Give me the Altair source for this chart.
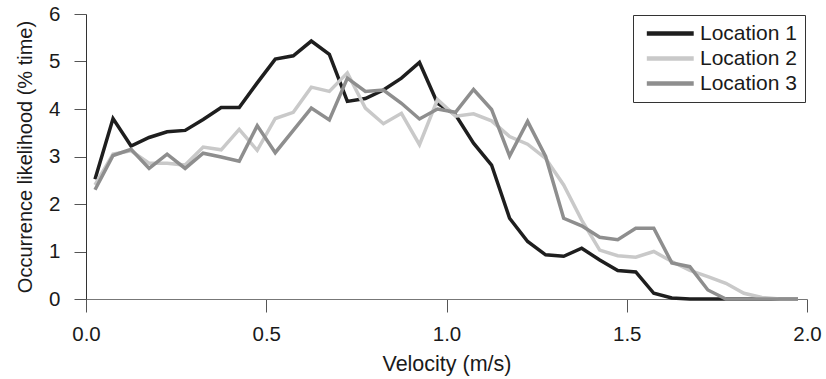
import altair as alt
import pandas as pd

velocity = [0.025, 0.075, 0.125, 0.175, 0.225, 0.275, 0.325, 0.375, 0.425, 0.475,
            0.525, 0.575, 0.625, 0.675, 0.725, 0.775, 0.825, 0.875, 0.925, 0.975,
            1.025, 1.075, 1.125, 1.175, 1.225, 1.275, 1.325, 1.375, 1.425, 1.475,
            1.525, 1.575, 1.625, 1.675, 1.725, 1.775, 1.825, 1.875, 1.925, 1.975]

location_1 = [2.52, 3.80, 3.22, 3.40, 3.52, 3.55, 3.78, 4.03, 4.03, 4.55,
              5.05, 5.12, 5.43, 5.15, 4.16, 4.22, 4.40, 4.65, 4.98, 4.12,
              3.88, 3.28, 2.82, 1.70, 1.21, 0.93, 0.90, 1.07, 0.82, 0.60,
              0.57, 0.12, 0.02, 0.0, 0.0, 0.0, 0.0, 0.0, 0.0, 0.0]

location_2 = [2.40, 3.05, 3.12, 2.86, 2.86, 2.82, 3.20, 3.14, 3.57, 3.13,
              3.80, 3.93, 4.46, 4.37, 4.76, 4.02, 3.69, 3.91, 3.25, 4.20,
              3.85, 3.90, 3.75, 3.42, 3.26, 2.96, 2.40, 1.66, 1.03, 0.91,
              0.88, 1.00, 0.79, 0.60, 0.47, 0.33, 0.12, 0.03, 0.0, 0.0]

location_3 = [2.30, 3.02, 3.15, 2.75, 3.05, 2.75, 3.07, 2.99, 2.90, 3.65,
              3.08, 3.55, 4.02, 3.77, 4.65, 4.37, 4.40, 4.12, 3.79, 4.00,
              3.93, 4.41, 3.99, 3.01, 3.74, 3.00, 1.70, 1.54, 1.30, 1.25,
              1.49, 1.49, 0.76, 0.68, 0.19, 0.0, 0.0, 0.0, 0.0, 0.0]

series_names = ["Location 1", "Location 2", "Location 3"]
series_colors = ["#1e1e1e", "#c9c9c9", "#8e8e8e"]
x_ticks = [0.0, 0.5, 1.0, 1.5, 2.0]
y_ticks = [0, 1, 2, 3, 4, 5, 6]

rows = []
for name, vals in zip(series_names, [location_1, location_2, location_3]):
    for v, y in zip(velocity, vals):
        rows.append({"velocity": v, "value": y, "location": name})
df = pd.DataFrame(rows)

FONT = "Liberation Sans"

chart = alt.Chart(df).mark_line(strokeWidth=3.5, strokeJoin="miter").encode(
    x=alt.X("velocity:Q",
            scale=alt.Scale(domain=[0, 2], nice=False, zero=False),
            axis=alt.Axis(values=x_ticks, format=".1f", title="Velocity (m/s)",
                          grid=False, domainColor="#777777", tickColor="#555555",
                          tickSize=13, labelPadding=12, titlePadding=9,
                          labelFontSize=20.5, titleFontSize=21.5, labelFont=FONT,
                          titleFont=FONT, labelColor="#1a1a1a", titleColor="#1a1a1a",
                          titleFontWeight="normal", labelFlush=False)),
    y=alt.Y("value:Q",
            scale=alt.Scale(domain=[0, 6], nice=False),
            axis=alt.Axis(values=y_ticks, format="d", title="Occurrence likelihood (% time)",
                          grid=False, domainColor="#333333", tickColor="#555555",
                          tickSize=12, labelPadding=14, titlePadding=13,
                          labelFontSize=20.5, titleFontSize=20, labelFont=FONT,
                          titleFont=FONT, labelColor="#1a1a1a", titleColor="#1a1a1a",
                          titleFontWeight="normal", labelFlush=False)),
    color=alt.Color("location:N",
                    scale=alt.Scale(domain=series_names, range=series_colors),
                    legend=alt.Legend(title=None, orient="none", legendX=547, legendY=1,
                                      symbolType="M-1,0L9,0", symbolSize=88,
                                      symbolStrokeWidth=4.5, labelFontSize=21,
                                      labelFont=FONT, labelColor="#1a1a1a",
                                      strokeColor="#333333", padding=8,
                                      rowPadding=3, labelOffset=38,
                                      fillColor="white")),
).properties(
    width=721, height=285,
    autosize=alt.AutoSizeParams(type="none"),
    padding={"left": 86, "top": 14, "right": 19, "bottom": 80},
).configure_view(stroke=None)

chart.save("out.html", embed_options={"renderer": "svg", "actions": False})
